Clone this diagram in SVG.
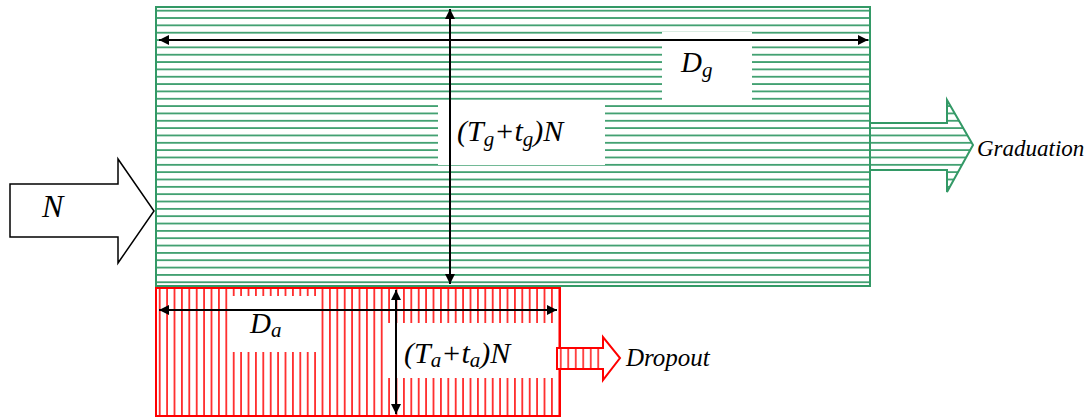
<svg xmlns="http://www.w3.org/2000/svg" width="1091" height="419" viewBox="0 0 1091 419">
<style>
.lbl{font-family:"Liberation Serif","Times New Roman",serif;font-style:italic;fill:#000}
.dim{stroke:#000;stroke-width:2;fill:none}
.wb{fill:#fff;stroke:none}
</style>
<defs>
<pattern id="gh" patternUnits="userSpaceOnUse" x="0" y="7" width="20" height="7.34">
<line x1="0" y1="3.67" x2="20" y2="3.67" stroke="#339966" stroke-width="1.7"/>
</pattern>
<pattern id="rh" patternUnits="userSpaceOnUse" x="156" y="0" width="7.4" height="20">
<line x1="3.7" y1="0" x2="3.7" y2="20" stroke="#ff0000" stroke-width="1.5"/>
</pattern>
<pattern id="rh2" patternUnits="userSpaceOnUse" x="557" y="0" width="7.5" height="20">
<line x1="3.75" y1="0" x2="3.75" y2="20" stroke="#ff0000" stroke-width="1.4"/>
</pattern>
<marker id="ah" viewBox="0 0 10 10" refX="10" refY="5" markerWidth="5" markerHeight="5" orient="auto-start-reverse" markerUnits="strokeWidth">
<path d="M0,0 L10,5 L0,10 Z" fill="#000"/>
</marker>
</defs>
<g id="graduation-pool">
<rect x="156" y="7" width="714" height="279" fill="url(#gh)" stroke="#339966" stroke-width="2"/>
</g>
<g id="dropout-pool">
<rect x="156" y="288" width="404" height="128" fill="url(#rh)" stroke="#ff0000" stroke-width="2"/>
</g>
<g id="input-arrow">
<path d="M10,184 L118,184 L118,159 L154,211 L118,263 L118,237 L10,237 Z" fill="#fff" stroke="#000" stroke-width="1.5"/>
<text class="lbl" x="42" y="217" font-size="32">N</text>
</g>
<g id="graduation-arrow">
<path d="M870,123 L947,123 L947,100 L973,145 L947,192 L947,170 L870,170 Z" fill="url(#gh)" stroke="#339966" stroke-width="2"/>
<text class="lbl" x="977" y="156" font-size="23">Graduation</text>
</g>
<g id="dropout-arrow">
<path d="M557,348 L603,348 L603,337 L620,358 L603,380 L603,369 L557,369 Z" fill="#fff" stroke="#ff0000" stroke-width="2"/>
<rect x="558" y="349" width="45" height="19" fill="url(#rh2)"/>
<text class="lbl" x="626" y="366" font-size="25">Dropout</text>
</g>
<g id="label-boxes">
<rect class="wb" x="662" y="32" width="90" height="68"/>
<rect class="wb" x="438" y="102" width="167" height="63"/>
<rect class="wb" x="231" y="296" width="90" height="56"/>
<rect class="wb" x="385" y="323" width="171" height="55"/>
</g>
<g id="connectors">
<line class="dim" x1="159" y1="40" x2="868" y2="40" marker-start="url(#ah)" marker-end="url(#ah)"/>
<line class="dim" x1="450" y1="9" x2="450" y2="284" marker-start="url(#ah)" marker-end="url(#ah)"/>
<line class="dim" x1="159" y1="310" x2="557" y2="310" marker-start="url(#ah)" marker-end="url(#ah)"/>
<line class="dim" x1="396" y1="290" x2="396" y2="414" marker-start="url(#ah)" marker-end="url(#ah)"/>
</g>
<g id="labels">
<text class="lbl" x="681" y="72" font-size="29">D<tspan font-size="21" dy="5">g</tspan></text>
<text class="lbl" x="457" y="141" font-size="30">(T<tspan font-size="21" dy="5">g</tspan><tspan dy="-5">+t</tspan><tspan font-size="21" dy="5">g</tspan><tspan dy="-5">)N</tspan></text>
<text class="lbl" x="250" y="333" font-size="29">D<tspan font-size="21" dy="4">a</tspan></text>
<text class="lbl" x="404" y="363" font-size="30">(T<tspan font-size="21" dy="4">a</tspan><tspan dy="-4">+t</tspan><tspan font-size="21" dy="4">a</tspan><tspan dy="-4">)N</tspan></text>
</g>
</svg>
